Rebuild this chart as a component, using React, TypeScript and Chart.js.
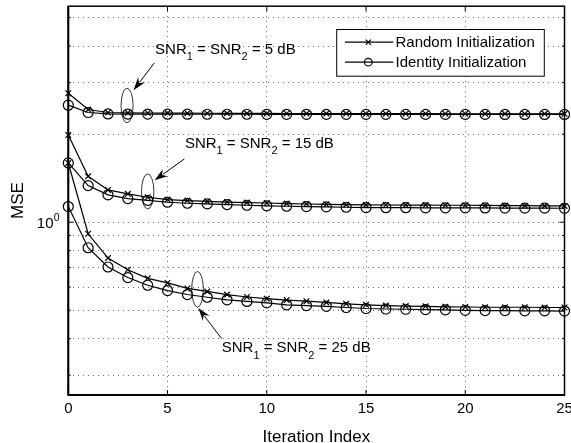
import React, { useEffect, useRef } from 'react';
import { Chart, registerables } from 'chart.js';

Chart.register(...registerables);

const FONT = "'Liberation Sans', Arial, Helvetica, sans-serif";

// ---------------- data ----------------
const iterations = [0, 1, 2, 3, 4, 5, 6, 7, 8, 9, 10, 11, 12, 13, 14, 15, 16, 17, 18, 19, 20, 21, 22, 23, 24, 25];

const random5dB = [2.760, 2.427, 2.371, 2.365, 2.362, 2.360, 2.358, 2.357, 2.356, 2.355, 2.354, 2.353, 2.352, 2.351, 2.351, 2.350, 2.350, 2.349, 2.349, 2.348, 2.348, 2.347, 2.347, 2.347, 2.346, 2.346];
const identity5dB = [2.512, 2.371, 2.345, 2.342, 2.341, 2.340, 2.340, 2.339, 2.339, 2.339, 2.338, 2.338, 2.338, 2.337, 2.337, 2.337, 2.337, 2.336, 2.336, 2.336, 2.336, 2.336, 2.335, 2.335, 2.335, 2.335];

const random15dB = [1.985, 1.435, 1.289, 1.250, 1.217, 1.195, 1.186, 1.178, 1.172, 1.167, 1.163, 1.158, 1.154, 1.151, 1.148, 1.146, 1.145, 1.144, 1.144, 1.143, 1.143, 1.141, 1.140, 1.139, 1.138, 1.137];
const identity15dB = [1.594, 1.334, 1.240, 1.204, 1.188, 1.170, 1.161, 1.155, 1.149, 1.143, 1.138, 1.134, 1.131, 1.128, 1.125, 1.122, 1.121, 1.121, 1.120, 1.120, 1.120, 1.119, 1.118, 1.117, 1.117, 1.116];

const random25dB = [1.594, 0.913, 0.754, 0.688, 0.643, 0.620, 0.594, 0.580, 0.566, 0.555, 0.548, 0.542, 0.537, 0.532, 0.526, 0.522, 0.519, 0.517, 0.516, 0.514, 0.513, 0.512, 0.512, 0.512, 0.511, 0.511];
const identity25dB = [1.131, 0.818, 0.703, 0.647, 0.609, 0.584, 0.566, 0.554, 0.543, 0.536, 0.530, 0.522, 0.519, 0.516, 0.511, 0.507, 0.505, 0.504, 0.503, 0.502, 0.500, 0.499, 0.499, 0.498, 0.498, 0.497];

const yGridValues = [0.3, 0.4, 0.5, 0.6, 0.7, 0.8, 0.9, 1, 2, 3, 4, 5];
const yLabelValue = 1;
const yMin = 0.2567;
const yMax = 5.474;
const xMin = 0;
const xMax = 25;
const xStep = 5;

const legendLabels = ['Random Initialization', 'Identity Initialization'];
const snrValues = ['5', '15', '25'];

// annotation anchors (data coords) with pixel offsets for arrow/text
const annotations = [
  { snr: snrValues[0], cx: 2.96, cy: 2.506, rx: 6, ry: 17.3, tip: [6.5, -15.3], tail: [27.3, -42.6], text: [28, -51.9] },
  { snr: snrValues[1], cx: 4.0, cy: 1.274, rx: 6.2, ry: 17.5, tip: [6.9, -11.1], tail: [36.7, -32.5], text: [37.2, -43.5] },
  { snr: snrValues[2], cx: 6.51, cy: 0.59, rx: 5.8, ry: 17.8, tip: [0.8, 18.7], tail: [24.2, 49.5], text: [24.2, 62.9] },
];

function drawSNR(ctx: CanvasRenderingContext2D, x: number, y: number, value: string) {
  const parts = [
    { t: 'SNR', sub: false },
    { t: '1', sub: true },
    { t: ' = SNR', sub: false },
    { t: '2', sub: true },
    { t: ` = ${value} dB`, sub: false },
  ];
  let cx = x;
  ctx.textAlign = 'left';
  ctx.textBaseline = 'alphabetic';
  ctx.fillStyle = '#000';
  for (const p of parts) {
    ctx.font = p.sub ? `11px ${FONT}` : `15px ${FONT}`;
    ctx.fillText(p.t, cx, p.sub ? y + 6.5 : y);
    cx += ctx.measureText(p.t).width;
  }
}

function drawArrow(ctx: CanvasRenderingContext2D, x1: number, y1: number, x2: number, y2: number) {
  const ang = Math.atan2(y2 - y1, x2 - x1);
  const L = 13;
  const W = 4.2;
  const c = Math.cos(ang);
  const s = Math.sin(ang);
  ctx.beginPath();
  ctx.moveTo(x1, y1);
  ctx.lineTo(x2 - (L - 3) * c, y2 - (L - 3) * s);
  ctx.stroke();
  const bx = x2 - L * c;
  const by = y2 - L * s;
  ctx.beginPath();
  ctx.moveTo(x2, y2);
  ctx.lineTo(bx + W * s, by - W * c);
  ctx.lineTo(x2 - (L - 4) * c, y2 - (L - 4) * s);
  ctx.lineTo(bx - W * s, by + W * c);
  ctx.closePath();
  ctx.fill();
}

const decorPlugin = {
  id: 'matlabDecor',
  afterDraw(chart: any) {
    const { ctx, chartArea: a, scales } = chart;
    const xs = scales.x;
    const ys = scales.y;
    ctx.save();

    // inner tick marks
    ctx.strokeStyle = '#000';
    ctx.lineWidth = 1;
    const seg = (x1: number, y1: number, x2: number, y2: number) => {
      ctx.beginPath();
      ctx.moveTo(x1, y1);
      ctx.lineTo(x2, y2);
      ctx.stroke();
    };
    for (const t of xs.ticks) {
      const p = xs.getPixelForValue(t.value);
      seg(p, a.bottom, p, a.bottom - 5);
      seg(p, a.top, p, a.top + 5);
    }
    for (const v of yGridValues) {
      const p = ys.getPixelForValue(v);
      const L = v === yLabelValue ? 5 : 2.5;
      seg(a.left, p, a.left + L, p);
      seg(a.right, p, a.right - L, p);
    }

    // frame
    ctx.lineWidth = 1.5;
    ctx.strokeRect(a.left, a.top, a.right - a.left, a.bottom - a.top);
    ctx.lineWidth = 2;
    seg(a.left - 0.5, a.bottom, a.right + 0.5, a.bottom);
    seg(a.left, a.top, a.left, a.bottom);

    // y label 10^0
    const py = ys.getPixelForValue(yLabelValue);
    ctx.fillStyle = '#000';
    ctx.font = `15px ${FONT}`;
    ctx.textAlign = 'right';
    ctx.textBaseline = 'alphabetic';
    ctx.fillText('10', a.left - 14.8, py + 5.6);
    ctx.font = `10.5px ${FONT}`;
    ctx.textAlign = 'left';
    ctx.fillText('0', a.left - 14.6, py - 1);

    // annotations
    for (const an of annotations) {
      const cx = xs.getPixelForValue(an.cx);
      const cy = ys.getPixelForValue(an.cy);
      ctx.strokeStyle = '#000';
      ctx.lineWidth = 0.8;
      ctx.beginPath();
      ctx.ellipse(cx, cy, an.rx, an.ry, 0, 0, Math.PI * 2);
      ctx.stroke();
      ctx.lineWidth = 1;
      ctx.fillStyle = '#000';
      drawArrow(ctx, cx + an.tail[0], cy + an.tail[1], cx + an.tip[0], cy + an.tip[1]);
      drawSNR(ctx, cx + an.text[0], cy + an.text[1], an.snr);
    }

    // legend
    const lx = a.right - 227.8;
    const lr = a.right - 20.2;
    const lt = a.top + 23.3;
    const lb = a.top + 70;
    ctx.fillStyle = '#fff';
    ctx.fillRect(lx, lt, lr - lx, lb - lt);
    ctx.strokeStyle = '#000';
    ctx.lineWidth = 1;
    ctx.strokeRect(lx, lt, lr - lx, lb - lt);
    const rows = [lt + 12.7, lt + 32.7];
    legendLabels.forEach((label, i) => {
      const ry = rows[i];
      ctx.strokeStyle = '#000';
      ctx.lineWidth = 1.2;
      seg(lx + 8.3, ry, lx + 56.6, ry);
      const mx = lx + 31.6;
      if (i === 0) {
        seg(mx - 2.6, ry - 2.6, mx + 2.6, ry + 2.6);
        seg(mx - 2.6, ry + 2.6, mx + 2.6, ry - 2.6);
      } else {
        ctx.beginPath();
        ctx.arc(mx, ry, 3.8, 0, Math.PI * 2);
        ctx.stroke();
      }
      ctx.fillStyle = '#000';
      ctx.font = `15px ${FONT}`;
      ctx.textAlign = 'left';
      ctx.textBaseline = 'alphabetic';
      ctx.fillText(label, lx + 58.8, ry + 4.8);
    });

    ctx.restore();
  },
};

export default function App() {
  const ref = useRef<HTMLCanvasElement>(null);

  useEffect(() => {
    const canvas = ref.current;
    if (!canvas) return;
    const toPts = (vals: number[]) => vals.map((y, i) => ({ x: iterations[i], y }));
    const mk = (label: string, vals: number[], marker: 'x' | 'o') => ({
      label,
      data: toPts(vals),
      borderColor: '#000',
      borderWidth: 1.2,
      pointStyle: marker === 'x' ? 'crossRot' : 'circle',
      pointRadius: marker === 'x' ? 4 : 5,
      pointBorderWidth: 1.2,
      pointBorderColor: '#000',
      pointBackgroundColor: 'rgba(0,0,0,0)',
      fill: false,
      tension: 0,
      clip: false,
    });

    const chart = new Chart(canvas, {
      type: 'line',
      data: {
        datasets: [
          mk(`${legendLabels[0]} ${snrValues[0]} dB`, random5dB, 'x'),
          mk(`${legendLabels[1]} ${snrValues[0]} dB`, identity5dB, 'o'),
          mk(`${legendLabels[0]} ${snrValues[1]} dB`, random15dB, 'x'),
          mk(`${legendLabels[1]} ${snrValues[1]} dB`, identity15dB, 'o'),
          mk(`${legendLabels[0]} ${snrValues[2]} dB`, random25dB, 'x'),
          mk(`${legendLabels[1]} ${snrValues[2]} dB`, identity25dB, 'o'),
        ] as any,
      },
      options: {
        responsive: false,
        animation: false,
        devicePixelRatio: 1,
        layout: { padding: { top: 5, right: 6.5, left: 0, bottom: 0 } },
        plugins: { legend: { display: false }, tooltip: { enabled: false } },
        scales: {
          x: {
            type: 'linear',
            min: xMin,
            max: xMax,
            ticks: {
              stepSize: xStep,
              maxRotation: 0,
              autoSkip: false,
              padding: 5.2,
              color: '#000',
              font: { size: 15, family: FONT },
            },
            grid: { color: 'rgba(0,0,0,0.6)', lineWidth: 1, drawTicks: false },
            border: { display: false, dash: [1, 4] },
            title: {
              display: true,
              text: 'Iteration Index',
              color: '#000',
              font: { size: 17, family: FONT },
              padding: { top: 0, bottom: -4.2 },
            },
            afterFit: (s: any) => {
              s.height = 48;
              s.paddingLeft = 0;
              s.paddingRight = 0;
            },
          },
          y: {
            type: 'logarithmic',
            min: yMin,
            max: yMax,
            ticks: { display: false },
            afterBuildTicks: (s: any) => {
              s.ticks = yGridValues.map((v) => ({ value: v }));
            },
            grid: { color: 'rgba(0,0,0,0.6)', lineWidth: 1, drawTicks: false },
            border: { display: false, dash: [1, 4] },
            title: {
              display: true,
              text: 'MSE',
              color: '#000',
              font: { size: 17, family: FONT },
              padding: { top: 8.6, bottom: 0 },
            },
            afterFit: (s: any) => {
              s.width = 68.3;
            },
          },
        },
      } as any,
      plugins: [decorPlugin],
    });
    return () => chart.destroy();
  }, []);

  return (
    <div style={{ position: 'fixed', left: 0, top: 0, width: 571, height: 443, background: '#fff' }}>
      <canvas ref={ref} width={571} height={443} style={{ display: 'block' }} />
    </div>
  );
}
